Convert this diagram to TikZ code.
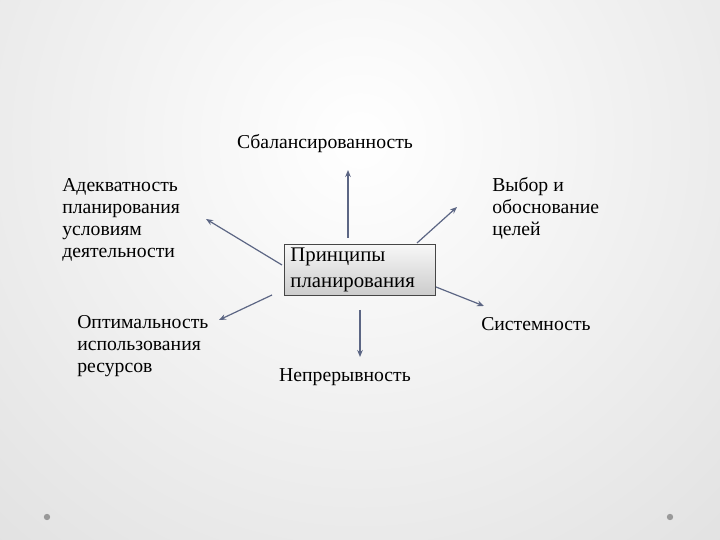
\documentclass[tikz,border=0pt]{standalone}
\usepackage{fontspec}
\setmainfont{Liberation Serif}
\usepackage{xcolor}
\usetikzlibrary{arrows.meta, positioning}

\definecolor{arrowblue}{RGB}{92,102,132}
\definecolor{boxedge}{RGB}{70,70,70}

\begin{document}
\begin{tikzpicture}[
    every node/.style={font=\fontsize{14}{15.6}\selectfont, inner sep=0pt},
    label/.style={align=left, anchor=west},
    principle/.style={draw=boxedge, line width=0.8pt, top color=gray!6, bottom color=gray!40,
      minimum width=3.775cm, minimum height=1.275cm, align=left, text width=3.5cm,
      font=\fontsize{14.8}{16.2}\selectfont},
    link/.style={->, draw=arrowblue, line width=0.85pt},
    dot/.style={circle, fill=gray!80, inner sep=1.6pt},
    >={Stealth[length=5pt, width=4pt]}
  ]

  % ── Background ──────────────────────────────────────────────────────────
  \useasboundingbox (0,0) rectangle (18,13.5);
  \begin{scope}
    \clip (0,0) rectangle (18,13.5);
    \shade[inner color=white, outer color=black!20] (9,10) circle (24cm);
  \end{scope}
  \node[dot] (dotl) at (1.175, 0.575) {};
  \node[dot] (dotr) at (16.75, 0.575) {};

  % ── Centre box ──────────────────────────────────────────────────────────
  \node[principle] (core) at (9.01, 6.76) {Принципы\\[2.5pt]планирования};

  % ── Principles round it ─────────────────────────────────────────────────
  \node (balance) at (8.125, 9.9) {Сбалансированность};
  \node[label] (adequacy) at (1.55, 8.0) {Адекватность\\планирования\\условиям\\деятельности};
  \node[label] (goals) at (12.3, 8.3) {Выбор и\\обоснование\\целей};
  \node[label] (optimal) at (1.925, 4.85) {Оптимальность\\использования\\ресурсов};
  \node[label] (system) at (12.025, 5.4) {Системность};
  \node (continuity) at (8.625, 4.075) {Непрерывность};

  % arrow ends stand free of the texts
  \coordinate (up0) at (8.7, 7.55);     \coordinate (up1) at (8.7, 9.25);
  \coordinate (ul0) at (7.05, 6.875);   \coordinate (ul1) at (5.15, 8.025);
  \coordinate (ur0) at (10.425, 7.425); \coordinate (ur1) at (11.425, 8.325);
  \coordinate (ll0) at (6.8, 6.125);    \coordinate (ll1) at (5.475, 5.5);
  \coordinate (rd0) at (10.9, 6.325);   \coordinate (rd1) at (12.1, 5.85);
  \coordinate (dn0) at (9.0, 5.75);     \coordinate (dn1) at (9.0, 4.575);

  \draw[link] (up0) -- (up1);
  \draw[link] (ul0) -- (ul1);
  \draw[link] (ur0) -- (ur1);
  \draw[link] (ll0) -- (ll1);
  \draw[link] (rd0) -- (rd1);
  \draw[link] (dn0) -- (dn1);

\end{tikzpicture}
\end{document}
